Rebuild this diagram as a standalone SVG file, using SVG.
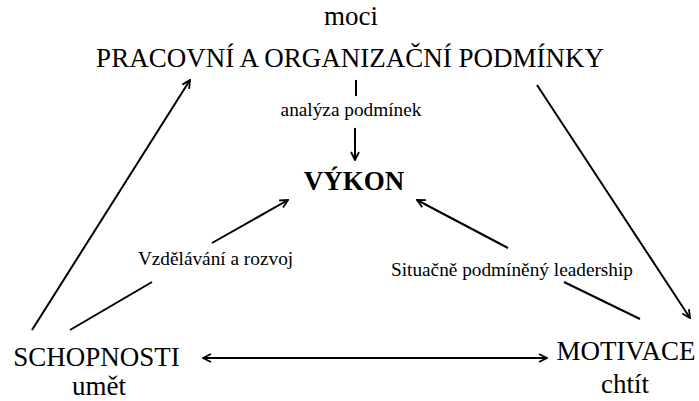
<svg xmlns="http://www.w3.org/2000/svg" width="699" height="401" viewBox="0 0 699 401">
<style>
text{font-family:"Liberation Serif","Times New Roman",serif;fill:#000;text-anchor:middle}
.big{font-size:27px}
.sm{font-size:19.3px}
.b{font-size:27px;font-weight:bold}
.ln{stroke:#000;stroke-width:2;fill:none}
</style>
<defs>
<marker id="ah" viewBox="0 0 10 10" refX="9" refY="5" markerWidth="10" markerHeight="10" orient="auto-start-reverse" markerUnits="userSpaceOnUse">
<path d="M1,1 L9,5 L1,9" fill="none" stroke="#000" stroke-width="1.8"/>
</marker>
</defs>
<rect width="699" height="401" fill="#fff"/>
<g id="podminky">
<text class="big" x="351" y="25">moci</text>
<text class="big" x="350" y="67">PRACOVNÍ A ORGANIZAČNÍ PODMÍNKY</text>
</g>
<g id="vykon">
<text class="b" x="354" y="190">VÝKON</text>
</g>
<g id="schopnosti">
<text class="big" x="96.5" y="366">SCHOPNOSTI</text>
<text class="big" x="99" y="395">umět</text>
</g>
<g id="motivace">
<text class="big" x="626" y="360">MOTIVACE</text>
<text class="big" x="625" y="393">chtít</text>
</g>
<g id="connectors">
<line class="ln" x1="356" y1="80" x2="356" y2="96"/>
<text class="sm" x="351" y="116">analýza podmínek</text>
<line class="ln" x1="355" y1="128" x2="355" y2="160" marker-end="url(#ah)"/>
<line class="ln" x1="32" y1="330" x2="190" y2="80" marker-end="url(#ah)"/>
<line class="ln" x1="537" y1="85" x2="690" y2="318" marker-end="url(#ah)"/>
<line class="ln" x1="70" y1="330" x2="152" y2="282"/>
<text class="sm" x="215.5" y="265">Vzdělávání a rozvoj</text>
<line class="ln" x1="212" y1="243" x2="288" y2="200" marker-end="url(#ah)"/>
<line class="ln" x1="640" y1="319" x2="564" y2="282"/>
<text class="sm" x="512" y="276">Situačně podmíněný leadership</text>
<line class="ln" x1="508" y1="248" x2="417" y2="200" marker-end="url(#ah)"/>
<line class="ln" x1="203" y1="358" x2="547" y2="358" marker-start="url(#ah)" marker-end="url(#ah)"/>
</g>
</svg>
